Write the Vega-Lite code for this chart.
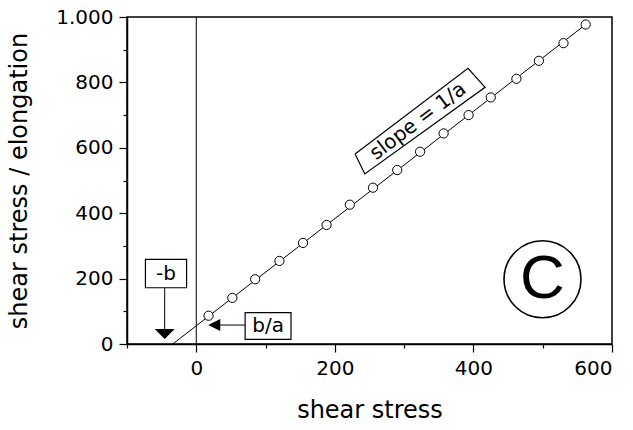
{
  "$schema": "https://vega.github.io/schema/vega-lite/v6.json",
  "width": 485,
  "height": 327,
  "autosize": {"type": "none"},
  "padding": {"left": 127, "top": 17, "right": 21, "bottom": 86},
  "background": "white",
  "config": {
    "view": {"stroke": "black", "strokeWidth": 1.5},
    "axis": {"grid": false, "domainColor": "black", "domainWidth": 1.5, "tickColor": "black", "tickWidth": 1.2,
      "labelFont": "DejaVu Sans", "labelFontSize": 20, "labelColor": "black",
      "titleFont": "DejaVu Sans", "titleFontSize": 24, "titleFontWeight": "normal", "titleColor": "black"}
  },
  "datasets": {
    "pts": [
      {"x": 17.7, "y": 86.5}, {"x": 52, "y": 141}, {"x": 85, "y": 198}, {"x": 120, "y": 254},
      {"x": 154, "y": 309}, {"x": 188, "y": 364}, {"x": 221.6, "y": 426}, {"x": 255, "y": 478},
      {"x": 290, "y": 532}, {"x": 323, "y": 588}, {"x": 357, "y": 644}, {"x": 393, "y": 700},
      {"x": 425, "y": 754}, {"x": 462, "y": 811}, {"x": 494.5, "y": 866}, {"x": 530, "y": 920},
      {"x": 562, "y": 977}
    ],
    "fit": [{"x": -34, "y": 0}, {"x": 562, "y": 977}],
    "vline": [{"x": 0, "y": 0}, {"x": 0, "y": 1000}],
    "slopebox": [
      {"x": 229.2, "y": 581, "o": 0}, {"x": 243.2, "y": 520, "o": 1}, {"x": 416.8, "y": 785, "o": 2},
      {"x": 392.2, "y": 843, "o": 3}, {"x": 229.2, "y": 581, "o": 4}
    ],
    "boxes": [
      {"x": -73.4, "x2": -14, "y": 172, "y2": 259},
      {"x": 70.5, "x2": 136.7, "y": 14.4, "y2": 95.7}
    ],
    "boxlabels": [
      {"x": -43.7, "y": 215, "label": "-b"},
      {"x": 103.6, "y": 55, "label": "b/a"}
    ],
    "stem1": [{"x": -45.6, "y": 172}, {"x": -45.6, "y": 40}],
    "stem2": [{"x": 30, "y": 58}, {"x": 70.5, "y": 58}],
    "tridown": [{"x": -45.6, "y": 30.6}],
    "trileft": [{"x": 25.9, "y": 58.1}],
    "slopelabel": [{"x": 320, "y": 681, "label": "slope = 1/a"}],
    "badge": [{"x": 499.7, "y": 198, "label": "C"}]
  },
  "encoding": {
    "x": {"field": "x", "type": "quantitative",
      "scale": {"domain": [-100, 600], "nice": false, "zero": false},
      "axis": {"title": "shear stress", "values": [-100, 0, 100, 200, 300, 400, 500, 600],
        "labelExpr": "datum.value >= 0 && datum.value % 200 === 0 ? datum.label : ''",
        "tickSize": {"condition": {"test": "datum.value % 200 === 0", "value": 8}, "value": 4},
        "labelPadding": 6, "titlePadding": 20}},
    "y": {"field": "y", "type": "quantitative",
      "scale": {"domain": [0, 1000], "nice": false},
      "axis": {"title": "shear stress / elongation", "values": [0, 100, 200, 300, 400, 500, 600, 700, 800, 900, 1000],
        "labelExpr": "datum.value === 1000 ? '1.000' : (datum.value % 200 === 0 ? datum.label : '')",
        "tickSize": {"condition": {"test": "datum.value % 200 === 0", "value": 8}, "value": 4},
        "labelPadding": 6, "titlePadding": 24}}
  },
  "layer": [
    {"data": {"name": "vline"}, "mark": {"type": "line", "color": "black", "strokeWidth": 1}},
    {"data": {"name": "fit"}, "mark": {"type": "line", "color": "black", "strokeWidth": 1}},
    {"data": {"name": "pts"}, "mark": {"type": "point", "shape": "circle", "filled": true, "fill": "white", "stroke": "black", "strokeWidth": 1, "size": 85, "opacity": 1}},
    {"data": {"name": "slopebox"}, "mark": {"type": "line", "color": "black", "strokeWidth": 1.2},
      "encoding": {"order": {"field": "o", "type": "quantitative"}}},
    {"data": {"name": "slopelabel"}, "mark": {"type": "text", "font": "DejaVu Sans", "fontSize": 20, "angle": -37, "align": "center", "baseline": "middle", "color": "black"},
      "encoding": {"text": {"field": "label"}}},
    {"data": {"name": "stem1"}, "mark": {"type": "line", "color": "black", "strokeWidth": 1}},
    {"data": {"name": "stem2"}, "mark": {"type": "line", "color": "black", "strokeWidth": 1}},
    {"data": {"name": "tridown"}, "mark": {"type": "point", "shape": "M-1,-0.5L1,-0.5L0,0.5Z", "size": 400, "filled": true, "color": "black", "opacity": 1}},
    {"data": {"name": "trileft"}, "mark": {"type": "point", "shape": "M-1,0L1,-1L1,1Z", "size": 144, "filled": true, "color": "black", "opacity": 1}},
    {"data": {"name": "boxes"}, "mark": {"type": "rect", "fill": "white", "stroke": "black", "strokeWidth": 1.2},
      "encoding": {"x2": {"field": "x2"}, "y2": {"field": "y2"}}},
    {"data": {"name": "boxlabels"}, "mark": {"type": "text", "font": "DejaVu Sans", "fontSize": 20, "align": "center", "baseline": "middle", "color": "black"},
      "encoding": {"text": {"field": "label"}}},
    {"data": {"name": "badge"}, "mark": {"type": "point", "shape": "circle", "size": 5929, "filled": false, "stroke": "black", "strokeWidth": 1.6, "opacity": 1}},
    {"data": {"name": "badge"}, "mark": {"type": "text", "font": "Liberation Sans", "fontSize": 62, "align": "center", "baseline": "middle", "color": "black"},
      "encoding": {"text": {"field": "label"}}}
  ]
}
